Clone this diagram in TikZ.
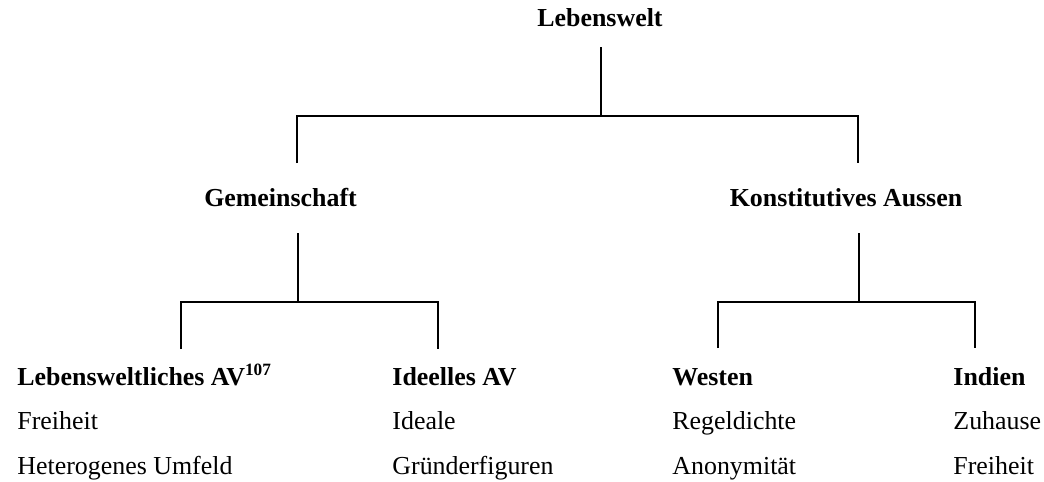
\documentclass[tikz,border=0pt]{standalone}
\usepackage{fontspec}
\setmainfont{Liberation Serif}
\usepackage{tikz}
\usetikzlibrary{positioning}

\begin{document}
\begin{tikzpicture}[
    x=0.4633pt, y=-0.4633pt,
    every node/.style={inner sep=0pt, font=\fontsize{12pt}{14pt}\selectfont},
    head/.style={anchor=base, font=\fontsize{12pt}{14pt}\selectfont\bfseries},
    leafhead/.style={anchor=base west, font=\fontsize{12pt}{14pt}\selectfont\bfseries},
    item/.style={anchor=base west},
    branch/.style={draw=black, line width=0.8pt}
]
\useasboundingbox (0,0) rectangle (1044,481);

% Levels
\node[head] (lw) at (600,26) {Lebenswelt};
\node[head] (gm) at (280.5,206) {Gemeinschaft};
\node[head] (ka) at (846,206) {Konstitutives Aussen};

% Leaves
\node[leafhead] (lwav) at (17,385) {Lebensweltliches AV\textsuperscript{107}};
\node[leafhead] (idav) at (392,385) {Ideelles AV};
\node[leafhead] (we) at (672,385) {Westen};
\node[leafhead] (in) at (953,385) {Indien};

\node[below=20.8pt of lwav.base west, item] (lwav1) {Freiheit};
\node[below=20.8pt of lwav1.base west, item] (lwav2) {Heterogenes Umfeld};
\node[below=20.8pt of idav.base west, item] (idav1) {Ideale};
\node[below=20.8pt of idav1.base west, item] (idav2) {Gründerfiguren};
\node[below=20.8pt of we.base west, item] (we1) {Regeldichte};
\node[below=20.8pt of we1.base west, item] (we2) {Anonymität};
\node[below=20.8pt of in.base west, item] (in1) {Zuhause};
\node[below=20.8pt of in1.base west, item] (in2) {Freiheit};

% Branch points
\coordinate (r0) at (601,47);
\coordinate (r1) at (601,116);
\coordinate (gmtop) at (297,163);
\coordinate (katop) at (858,163);
\coordinate (g0) at (298,233);
\coordinate (g1) at (298,302);
\coordinate (lwavtop) at (181,349);
\coordinate (idavtop) at (438,349);
\coordinate (k0) at (859,233);
\coordinate (k1) at (859,302);
\coordinate (wetop) at (718,348);
\coordinate (intop) at (975,348);

% Branches
\draw[branch] (r0) -- (r1);
\draw[branch] (gmtop) -- (gmtop |- r1) -- (katop |- r1) -- (katop);
\draw[branch] (g0) -- (g1);
\draw[branch] (lwavtop) -- (lwavtop |- g1) -- (idavtop |- g1) -- (idavtop);
\draw[branch] (k0) -- (k1);
\draw[branch] (wetop) -- (wetop |- k1) -- (intop |- k1) -- (intop);

\end{tikzpicture}
\end{document}
